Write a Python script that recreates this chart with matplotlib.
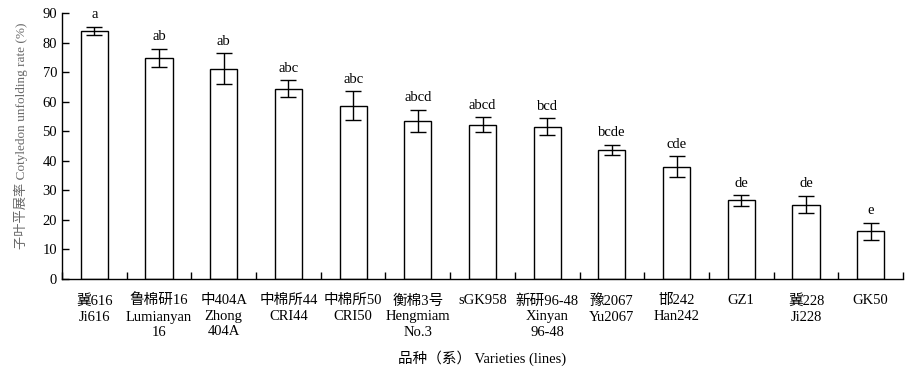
import matplotlib
matplotlib.use("Agg")
import matplotlib.pyplot as plt
import numpy as np

plt.rcParams['font.family'] = ['Liberation Serif', 'Noto Sans CJK SC']
plt.rcParams['font.size'] = 10.5

# data
varieties = ['冀616\nJi616', '鲁棉研16\nLumianyan\n16', '中404A\nZhong\n404A',
             '中棉所44\nCRI44', '中棉所50\nCRI50', '衡棉3号\nHengmiam\nNo.3',
             'sGK958', '新研96-48\nXinyan\n96-48', '豫2067\nYu2067',
             '邯242\nHan242', 'GZ1', '冀228\nJi228', 'GK50']
rate = [84.0, 74.8, 71.1, 64.4, 58.6, 53.5, 52.2, 51.5, 43.8, 38.0, 26.6, 25.2, 16.1]
err = [1.4, 3.1, 5.2, 2.8, 4.9, 3.7, 2.5, 2.9, 1.7, 3.5, 1.8, 2.9, 3.0]
letters = ['a', 'ab', 'ab', 'abc', 'abc', 'abcd', 'abcd', 'bcd', 'bcde', 'cde', 'de', 'de', 'e']

fig = plt.figure(figsize=(9.19, 3.84), dpi=100)
ax = fig.add_axes([62 / 919, 1 - 279 / 384, (903 - 62) / 919, (279 - 13) / 384])

x = np.arange(len(rate))
ax.bar(x, rate, width=0.42, color='white', edgecolor='black', linewidth=1.0,
       yerr=err, error_kw=dict(ecolor='black', elinewidth=1.0, capsize=6, capthick=1.0))

for xi, v, e, lab in zip(x, rate, err, letters):
    ax.annotate(lab, (xi, v + e), xytext=(0, 4), textcoords='offset points',
                ha='center', va='bottom', fontsize=10.5)

ax.set_xlim(-0.5, len(rate) - 0.5)
ax.set_ylim(0, 90)
ax.set_yticks(np.arange(0, 91, 10))
ax.set_xticks(x)
ax.set_xticklabels(varieties, linespacing=1.25, va='top')
ax.set_xticks(np.arange(-0.5, len(rate), 1), minor=True)
ax.tick_params(axis='x', which='major', length=0, pad=11)
ax.tick_params(axis='x', which='minor', direction='in', length=5, width=1)
ax.tick_params(axis='y', direction='in', length=5, width=1, labelsize=10.5)

for s in ['top', 'right']:
    ax.spines[s].set_visible(False)
for s in ['left', 'bottom']:
    ax.spines[s].set_linewidth(1.0)

ax.set_ylabel('子叶平展率 Cotyledon unfolding rate (%)', color='#6a6a6a', fontsize=9.5)
ax.yaxis.set_label_coords(-0.040, (279 - 136) / 266)
fig.text((62 + 903) / 2 / 919, 1 - 358 / 384, '品种（系） Varieties (lines)',
         ha='center', va='center', fontsize=10.5)

fig.savefig('out.png', dpi=100)
